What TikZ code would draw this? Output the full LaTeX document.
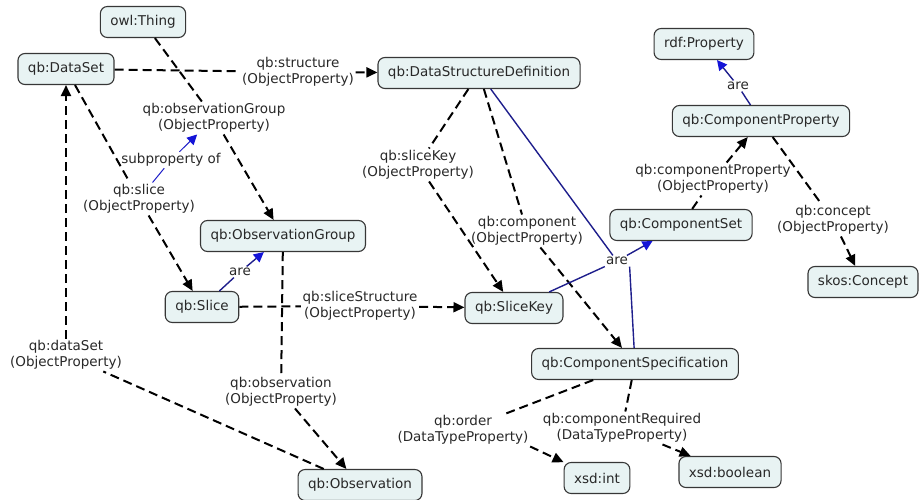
\documentclass[tikz,border=0pt]{standalone}
\usepackage{fontspec}
\setmainfont{DejaVu Sans}
\usetikzlibrary{arrows.meta}
\definecolor{nodefill}{RGB}{232,243,243}
\definecolor{nodeline}{RGB}{55,55,55}
\definecolor{txt}{RGB}{40,40,40}
\definecolor{isa}{RGB}{30,30,140}
\definecolor{isahead}{RGB}{20,20,215}
\definecolor{subp}{RGB}{30,30,200}
\begin{document}
\begin{tikzpicture}[x=1pt,y=-1pt,
  concept/.style={draw=nodeline, line width=1.1pt, fill=nodefill, rounded corners=7pt,
    inner xsep=10pt, minimum height=31pt, font=\fontsize{13.5}{16}\selectfont, text=txt},
  link/.style={align=center, inner sep=1.5pt, font=\fontsize{13.5}{16.5}\selectfont, text=txt},
  rel/.style={line width=2pt, dash pattern=on 9pt off 5pt, black},
  relarrow/.style={rel, -{Triangle[length=11pt,width=10pt]}},
  kind/.style={line width=1.4pt, isa},
  kindarrow/.style={kind, -{Triangle[length=10pt,width=10pt,color=isahead]}},
  subline/.style={line width=1pt, subp},
  subarrow/.style={subline, -{Triangle[length=10pt,width=10pt,color=isahead]}},
]
\useasboundingbox (0,0) rectangle (920,500);

% concepts
\node[concept] (thing) at (143,22) {owl:Thing};
\node[concept] (dataset) at (66,69) {qb:DataSet};
\node[concept] (dsd) at (479,73) {qb:DataStructureDefinition};
\node[concept] (rdfprop) at (704,44) {rdf:Property};
\node[concept] (compprop) at (761,121) {qb:ComponentProperty};
\node[concept] (compset) at (681,225) {qb:ComponentSet};
\node[concept] (skos) at (863,282) {skos:Concept};
\node[concept] (obsgroup) at (283,236) {qb:ObservationGroup};
\node[concept] (slice) at (202,307) {qb:Slice};
\node[concept] (slicekey) at (514,308) {qb:SliceKey};
\node[concept] (compspec) at (635,364) {qb:ComponentSpecification};
\node[concept] (obs) at (360,485) {qb:Observation};
\node[concept] (int) at (597,478) {xsd:int};
\node[concept] (bool) at (730,472) {xsd:boolean};

% linking phrases
\node[link] (lstructure) at (298,72) {qb:structure\\(ObjectProperty)};
\node[link] (lobsgroup) at (214,118) {qb:observationGroup\\(ObjectProperty)};
\node[link] (lsubprop) at (171,160) {subproperty of};
\node[link] (lslice) at (139,199) {qb:slice\\(ObjectProperty)};
\node[link] (lare1) at (240,272) {are};
\node[link] (lslicestruct) at (360,306) {qb:sliceStructure\\(ObjectProperty)};
\node[link] (ldataset) at (66,355) {qb:dataSet\\(ObjectProperty)};
\node[link] (lobs) at (281,392) {qb:observation\\(ObjectProperty)};
\node[link] (lslicekey) at (418,165) {qb:sliceKey\\(ObjectProperty)};
\node[link] (lcomponent) at (527,231) {qb:component\\(ObjectProperty)};
\node[link] (lare2) at (617,261) {are};
\node[link] (lcompprop) at (713,179) {qb:componentProperty\\(ObjectProperty)};
\node[link] (lconcept) at (833,220) {qb:concept\\(ObjectProperty)};
\node[link] (lare3) at (738,86) {are};
\node[link] (lorder) at (463,430) {qb:order\\(DataTypeProperty)};
\node[link] (lreq) at (622,428) {qb:componentRequired\\(DataTypeProperty)};

% object and datatype properties
\draw[rel] (dataset) -- (lstructure);
\draw[relarrow] (lstructure) -- (dsd);
\draw[rel] (thing) -- (lobsgroup);
\draw[relarrow] (lobsgroup) -- (obsgroup);
\draw[rel] (dataset) -- (lslice);
\draw[relarrow] (lslice) -- (slice);
\draw[rel] (slice) -- (lslicestruct);
\draw[relarrow] (lslicestruct) -- (slicekey);
\draw[rel] (obsgroup) -- (lobs);
\draw[relarrow] (lobs) -- (obs);
\draw[rel] (obs) -- (ldataset);
\draw[relarrow] (ldataset) -- (dataset);
\draw[rel] (dsd) -- (lslicekey);
\draw[relarrow] (lslicekey) -- (slicekey);
\draw[rel] (dsd) -- (lcomponent);
\draw[relarrow] (lcomponent) -- (compspec);
\draw[rel] (compset) -- (lcompprop);
\draw[relarrow] (lcompprop) -- (compprop);
\draw[rel] (compprop) -- (lconcept);
\draw[relarrow] (lconcept) -- (skos);
\draw[rel] (compspec) -- (lorder);
\draw[relarrow] (lorder.south east) -- (int);
\draw[rel] (compspec) -- (lreq);
\draw[relarrow] (lreq) -- (bool);

% subproperty link
\draw[subline] (lslice) -- (lsubprop);
\draw[subarrow] (lsubprop) -- (lobsgroup);

% class membership links
\draw[kind] (slice) -- (lare1);
\draw[kindarrow] (lare1) -- (obsgroup);
\draw[kind] (dsd) -- (lare2);
\draw[kind] (slicekey) -- (lare2);
\draw[kind] (compspec) -- (lare2.south east);
\draw[kindarrow] (lare2) -- (compset);
\draw[kind] (compprop) -- (lare3);
\draw[kindarrow] (lare3) -- (rdfprop);
\end{tikzpicture}
\end{document}
